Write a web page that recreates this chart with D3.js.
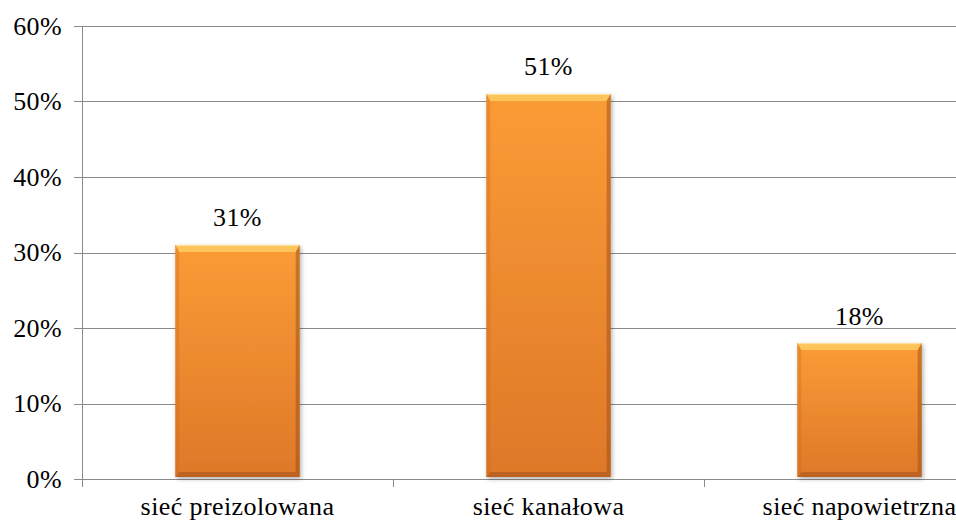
<!DOCTYPE html>
<html>
<head>
<meta charset="utf-8">
<script src="https://cdn.jsdelivr.net/npm/d3@7"></script>
<style>
  html, body { margin: 0; padding: 0; background: #fff; }
  svg { display: block; overflow: hidden; }
</style>
</head>
<body>
<svg id="chart" width="956" height="522"></svg>
<script>
// Data
const categories = ["sieć preizolowana", "sieć kanałowa", "sieć napowietrzna"];
const values = [31, 51, 18];
const yTicks = [0, 10, 20, 30, 40, 50, 60];

const FONT = '"Liberation Serif"';
const svg = d3.select("#chart");
const plot = { left: 82, right: 1015, top: 26, bottom: 479 };

const x = d3.scaleBand().domain(categories).range([plot.left, plot.right]).paddingInner(0.6).paddingOuter(0.3);
const y = d3.scaleLinear().domain([0, 60]).range([plot.bottom, plot.top]);

const defs = svg.append("defs");
const grad = defs.append("linearGradient").attr("id", "barFill")
  .attr("x1", 0).attr("y1", 0).attr("x2", 0).attr("y2", 1);
grad.append("stop").attr("offset", "0%").attr("stop-color", "#fa9c36");
grad.append("stop").attr("offset", "100%").attr("stop-color", "#de7828");

const shadow = defs.append("filter").attr("id", "shadow")
  .attr("x", "-10%").attr("y", "-10%").attr("width", "130%").attr("height", "130%");
shadow.append("feDropShadow").attr("dx", 1.5).attr("dy", 2).attr("stdDeviation", 2)
  .attr("flood-color", "#000").attr("flood-opacity", 0.3);

// Gridlines
svg.append("g").selectAll("line").data(yTicks).join("line")
  .attr("x1", plot.left - 8).attr("x2", plot.right)
  .attr("y1", d => Math.round(y(d)) + 0.5).attr("y2", d => Math.round(y(d)) + 0.5)
  .attr("stroke", "#8a8a8a").attr("stroke-width", 1);

// Y axis line
svg.append("line").attr("x1", plot.left + 0.5).attr("x2", plot.left + 0.5)
  .attr("y1", plot.top).attr("y2", plot.bottom + 8).attr("stroke", "#8a8a8a");

// Category separators on the x axis
const step = x.step();
const seps = d3.range(categories.length + 1).map(i => plot.left + i * step);
svg.append("g").selectAll("line").data(seps).join("line")
  .attr("x1", d => Math.round(d) + 0.5).attr("x2", d => Math.round(d) + 0.5)
  .attr("y1", plot.bottom).attr("y2", plot.bottom + 8).attr("stroke", "#8a8a8a");

const label = sel => sel.style("font-family", FONT).style("font-size", "26px")
  .style("letter-spacing", "0.4px").attr("fill", "#000");

// Y tick labels
svg.append("g").selectAll("text").data(yTicks).join("text")
  .attr("x", 62).attr("y", d => y(d) + 8.5)
  .attr("text-anchor", "end").call(label)
  .text(d => d + "%");

// Bars with a bevelled face
const bars = svg.append("g").selectAll("g").data(values).join("g")
  .attr("filter", "url(#shadow)");
bars.each(function(v, i) {
  const g = d3.select(this);
  const bx = x(categories[i]), bw = x.bandwidth();
  const by = y(v), bh = y(0) - y(v) - 2;
  const bt = 7, bb = 5, bs = 4;
  g.append("rect").attr("x", bx).attr("y", by).attr("width", bw).attr("height", bh)
    .attr("fill", "url(#barFill)");
  const poly = (pts, fill, op) => g.append("polygon")
    .attr("points", pts.map(p => p.join(",")).join(" "))
    .attr("fill", fill).attr("fill-opacity", op);
  // top, bottom, left and right bevel faces
  poly([[bx, by], [bx + bw, by], [bx + bw - bs, by + bt], [bx + bs, by + bt]], "#ffd56c", 0.7);
  poly([[bx, by + bh], [bx + bw, by + bh], [bx + bw - bs, by + bh - bb], [bx + bs, by + bh - bb]], "#a3531a", 0.55);
  poly([[bx, by], [bx + bs, by + bt], [bx + bs, by + bh - bb], [bx, by + bh]], "#c8681f", 0.3);
  poly([[bx + bw, by], [bx + bw - bs, by + bt], [bx + bw - bs, by + bh - bb], [bx + bw, by + bh]], "#9a4e16", 0.5);
  // thin highlight along the top edge
  g.append("line").attr("x1", bx + 1).attr("x2", bx + bw - 1)
    .attr("y1", by + 0.5).attr("y2", by + 0.5).attr("stroke", "#ffe9b0").attr("stroke-opacity", 0.8);
});

// Value labels
svg.append("g").selectAll("text").data(values).join("text")
  .attr("x", (d, i) => x(categories[i]) + x.bandwidth() / 2)
  .attr("y", d => y(d) - 18.5)
  .attr("text-anchor", "middle").call(label)
  .text(d => d + "%");

// Category labels
svg.append("g").selectAll("text").data(categories).join("text")
  .attr("x", d => x(d) + x.bandwidth() / 2)
  .attr("y", 515)
  .attr("text-anchor", "middle").call(label)
  .text(d => d);
</script>
</body>
</html>
